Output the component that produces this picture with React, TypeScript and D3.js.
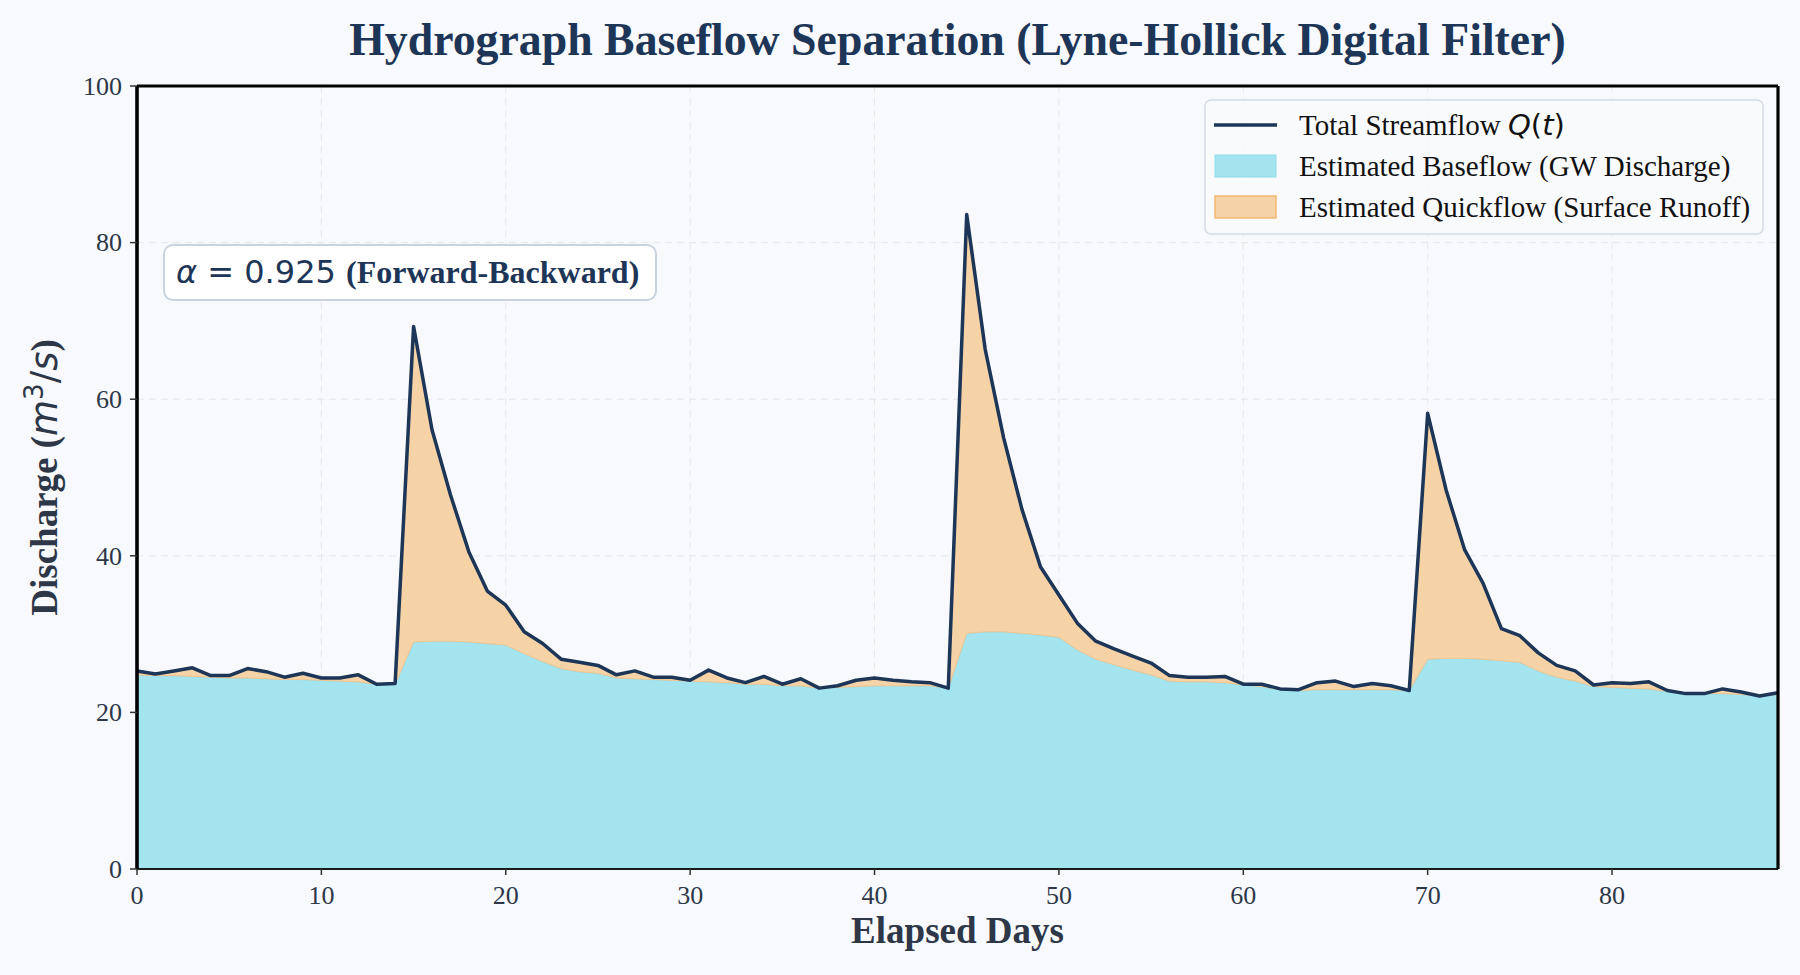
import React, { useEffect } from "react";
import * as d3 from "d3";

// daily streamflow Q(t), m3/s (days 0..89)
const totalFlow = [
  25.3, 24.9, 25.3, 25.7, 24.7, 24.7, 25.6, 25.2, 24.5, 25.0, 24.4, 24.4, 24.8, 23.6, 23.7,
  69.3, 56.1, 47.8, 40.5, 35.5, 33.7, 30.3, 28.8, 26.8, 26.4, 26.0, 24.8, 25.3, 24.5, 24.5,
  24.1, 25.4, 24.4, 23.8, 24.6, 23.6, 24.3, 23.1, 23.4, 24.1, 24.4, 24.1, 23.9, 23.8, 23.1,
  83.6, 66.4, 55.1, 45.9, 38.6, 35.0, 31.4, 29.1, 28.1, 27.2, 26.3, 24.7, 24.5, 24.5, 24.6,
  23.6, 23.6, 23.0, 22.9, 23.8, 24.0, 23.3, 23.7, 23.4, 22.8,
  58.2, 48.4, 40.8, 36.5, 30.7, 29.8, 27.6, 26.0, 25.3, 23.5,
  23.8, 23.7, 23.9, 22.8, 22.4, 22.4, 23.0, 22.6, 22.1, 22.5,
];

// filtered baseflow
const baseFlow = [
  24.8, 24.7, 24.7, 24.6, 24.5, 24.4, 24.4, 24.3, 24.2, 24.2, 24.1, 24.0, 23.9, 23.6, 23.6,
  29.0, 29.1, 29.1, 29.0, 28.8, 28.6, 27.5, 26.5, 25.6, 25.2, 25.0, 24.4, 24.3, 24.2, 24.1,
  24.0, 23.9, 23.8, 23.6, 23.6, 23.4, 23.4, 23.1, 23.2, 23.3, 23.4, 23.4, 23.4, 23.4, 23.1,
  30.1, 30.3, 30.3, 30.1, 29.9, 29.6, 28.0, 26.8, 26.1, 25.4, 24.8, 24.0, 23.9, 23.9, 23.8,
  23.5, 23.3, 22.9, 22.8, 22.9, 22.9, 22.9, 22.9, 22.9, 22.8,
  26.8, 26.9, 26.9, 26.8, 26.6, 26.4, 25.3, 24.5, 24.0, 23.3,
  23.2, 23.1, 23.0, 22.7, 22.4, 22.4, 22.4, 22.3, 22.1, 22.3,
];

const xTicks = [0, 10, 20, 30, 40, 50, 60, 70, 80];
const yTicks = [0, 20, 40, 60, 80, 100];

const legendLabels = [
  "Total Streamflow ",
  "Estimated Baseflow (GW Discharge)",
  "Estimated Quickflow (Surface Runoff)",
];

const W = 1800;
const H = 975;
const m = { left: 137, right: 1778, top: 86, bottom: 869 };

const BG = "#f7f9fc";
const NAVY = "#1d3557";
const TEXT = "#2d3748";
const SERIF = "'Liberation Serif', 'Times New Roman', serif";
const MATH = "'DejaVu Sans', sans-serif";

const App: React.FC = () => {
  useEffect(() => {
    document.body.style.margin = "0";
    document.body.style.background = BG;
    document.body.style.overflow = "hidden";
  }, []);

  const days = totalFlow.map((_, i) => i);
  const x = d3.scaleLinear().domain([0, 89]).range([m.left, m.right]);
  const y = d3.scaleLinear().domain([0, 100]).range([m.bottom, m.top]);

  const baseArea = d3
    .area<number>()
    .x((d) => x(d))
    .y0(y(0))
    .y1((d) => y(baseFlow[d]))(days) as string;

  const quickArea = d3
    .area<number>()
    .x((d) => x(d))
    .y0((d) => y(baseFlow[d]))
    .y1((d) => y(totalFlow[d]))(days) as string;

  const qLine = d3
    .line<number>()
    .x((d) => x(d))
    .y((d) => y(totalFlow[d]))(days) as string;

  const lx = 1205;
  const ly = 100;
  const rowY = [125, 166, 207];

  return (
    <svg width={W} height={H} style={{ display: "block", background: BG }}>
      <rect x={0} y={0} width={W} height={H} fill={BG} />

      {/* title */}
      <text
        x={(m.left + m.right) / 2}
        y={55}
        textAnchor="middle"
        fontFamily={SERIF}
        fontWeight="bold"
        fontSize={45.8}
        fill={NAVY}
      >
        Hydrograph Baseflow Separation (Lyne-Hollick Digital Filter)
      </text>

      {/* grid */}
      <g stroke="#e3e8ef" strokeWidth={1} strokeDasharray="7,5">
        {xTicks.map((t) => (
          <line key={"gx" + t} x1={x(t)} x2={x(t)} y1={m.top} y2={m.bottom} />
        ))}
        {yTicks.map((t) => (
          <line key={"gy" + t} x1={m.left} x2={m.right} y1={y(t)} y2={y(t)} />
        ))}
      </g>

      {/* fills */}
      <path d={baseArea} fill="#a4e4ef" stroke="#93dbea" strokeWidth={1.5} />
      <path d={quickArea} fill="#f5d3a7" stroke="#f3c68f" strokeWidth={1} />
      <path
        d={qLine}
        fill="none"
        stroke={NAVY}
        strokeWidth={3.5}
        strokeLinejoin="round"
      />

      {/* spines */}
      <line x1={m.left} x2={m.right} y1={m.bottom} y2={m.bottom} stroke="#1a1a1a" strokeWidth={2} />
      <line x1={m.left} x2={m.left} y1={m.top} y2={m.bottom} stroke="#000" strokeWidth={3.6} />
      <line x1={m.right} x2={m.right} y1={m.top} y2={m.bottom} stroke="#000" strokeWidth={3.2} />
      <line x1={m.left} x2={m.right} y1={m.top} y2={m.top} stroke="#000" strokeWidth={3.2} />

      {/* x ticks */}
      {xTicks.map((t) => (
        <g key={"xt" + t}>
          <line x1={x(t)} x2={x(t)} y1={m.bottom} y2={m.bottom + 6} stroke="#333" strokeWidth={1.5} />
          <text
            x={x(t)}
            y={m.bottom + 35}
            textAnchor="middle"
            fontFamily={SERIF}
            fontSize={26}
            fill={TEXT}
          >
            {t}
          </text>
        </g>
      ))}

      {/* y ticks */}
      {yTicks.map((t) => (
        <g key={"yt" + t}>
          <line x1={m.left - 7} x2={m.left} y1={y(t)} y2={y(t)} stroke="#333" strokeWidth={1.5} />
          <text
            x={m.left - 15}
            y={y(t)}
            dy="0.34em"
            textAnchor="end"
            fontFamily={SERIF}
            fontSize={26}
            fill={TEXT}
          >
            {t}
          </text>
        </g>
      ))}

      {/* axis labels */}
      <text
        x={(m.left + m.right) / 2}
        y={943}
        textAnchor="middle"
        fontFamily={SERIF}
        fontWeight="bold"
        fontSize={37}
        fill={TEXT}
      >
        Elapsed Days
      </text>
      <text
        transform={`translate(57, ${(m.top + m.bottom) / 2}) rotate(-90)`}
        textAnchor="middle"
        fontFamily={SERIF}
        fontWeight="bold"
        fontSize={37}
        fill={TEXT}
      >
        Discharge (
        <tspan fontFamily={MATH} fontWeight="normal" fontStyle="italic">m</tspan>
        <tspan fontFamily={MATH} fontWeight="normal" fontSize={26} dy={-14}>3</tspan>
        <tspan fontFamily={MATH} fontWeight="normal" dy={14}>/</tspan>
        <tspan fontFamily={MATH} fontWeight="normal" fontStyle="italic">s</tspan>
        )
      </text>

      {/* alpha annotation */}
      <rect x={164} y={245} width={492} height={55} rx={9} fill="#ffffff" stroke="#c8d3e0" strokeWidth={2} />
      <text x={176} y={283} fontSize={32} fill={NAVY}>
        <tspan fontFamily={MATH} fontStyle="italic">α</tspan>
        <tspan fontFamily={MATH}>{" = 0.925 "}</tspan>
        <tspan fontFamily={SERIF} fontWeight="bold">(Forward-Backward)</tspan>
      </text>

      {/* legend */}
      <rect
        x={lx}
        y={ly}
        width={558}
        height={134}
        rx={6}
        fill="#f8fafc"
        fillOpacity={0.9}
        stroke="#d3dbe6"
        strokeWidth={1.5}
      />
      <line x1={1214} x2={1277} y1={rowY[0]} y2={rowY[0]} stroke={NAVY} strokeWidth={3.5} />
      <rect x={1215} y={rowY[1] - 11} width={61} height={22} fill="#a4e4ef" stroke="#93dbea" strokeWidth={1} />
      <rect x={1215} y={rowY[2] - 11} width={61} height={22} fill="#f5d3a7" stroke="#f3b873" strokeWidth={1.5} />
      {legendLabels.map((lab, i) => (
        <text
          key={lab}
          x={1299}
          y={rowY[i]}
          dy="0.34em"
          fontFamily={SERIF}
          fontSize={29}
          fill="#111"
        >
          {lab}
          {i === 0 && (
            <>
              <tspan fontFamily={MATH} fontStyle="italic">Q</tspan>
              <tspan fontFamily={MATH}>(</tspan>
              <tspan fontFamily={MATH} fontStyle="italic">t</tspan>
              <tspan fontFamily={MATH}>)</tspan>
            </>
          )}
        </text>
      ))}
    </svg>
  );
};

export default App;
